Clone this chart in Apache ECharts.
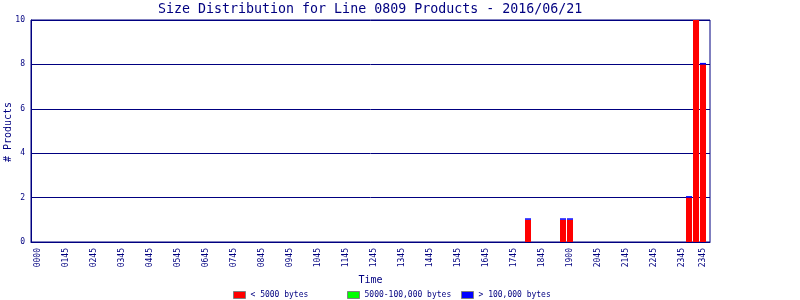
<!DOCTYPE html>
<html>
<head>
<meta charset="utf-8">
<script src="https://cdn.jsdelivr.net/npm/echarts@6/dist/echarts.min.js"></script>
<style>html,body{margin:0;padding:0;background:#fff}#c{width:800px;height:300px}</style>
</head>
<body>
<div id="c"></div>
<script>
var categories = [
  "0000","0100","0115","0130","0145","0200","0215","0230",
  "0245","0300","0315","0330","0345","0400","0415","0430",
  "0445","0500","0515","0530","0545","0600","0615","0630",
  "0645","0700","0715","0730","0745","0800","0815","0830",
  "0845","0900","0915","0930","0945","1000","1015","1030",
  "1045","1100","1115","1130","1145","1200","1215","1230",
  "1245","1300","1315","1330","1345","1400","1415","1430",
  "1445","1500","1515","1530","1545","1600","1615","1630",
  "1645","1700","1715","1730","1745","1800","1815","1830",
  "1845","1850","1855","1858","1900","2000","2015","2030",
  "2045","2100","2115","2130","2145","2200","2215","2230",
  "2245","2300","2315","2330","2345","2350","2355","2345"
];
// counts per slot (index -> value), only non-zero slots listed
var smallSlots = [70, 75, 76, 93, 94, 95];
var smallCounts = [1, 1, 1, 2, 10, 8];      // < 5000 bytes
var mediumCounts = [];                      // 5000-100,000 bytes (none)
var largeCounts = [0, 0, 0, 0, 0, 0];       // > 100,000 bytes (zero, drawn as cap)
var yTicks = [0, 2, 4, 6, 8, 10];

var NAVY = '#000080';
var FONT = '"DejaVu Sans Mono", monospace';

// pad categories with an empty slot at both ends
var padCats = [''].concat(categories).concat(['']);
function build(vals) {
  var arr = padCats.map(function () { return '-'; });
  for (var i = 0; i < smallSlots.length; i++) {
    if (vals[i] !== undefined) arr[smallSlots[i] + 1] = vals[i];
  }
  return arr;
}
var redData = build(smallCounts);
var greenData = build(mediumCounts);
var blueData = build(largeCounts);

var chart = echarts.init(document.getElementById('c'), null, {renderer: 'canvas'});
var legendBase = {
  orient: 'horizontal', top: 291, itemWidth: 12, itemHeight: 7, itemGap: 5,
  padding: 0,
  icon: 'rect',
  itemStyle: {borderColor: '#808080', borderWidth: 1},
  textStyle: {fontFamily: FONT, fontSize: 8, color: NAVY},
  selectedMode: false
};
chart.setOption({
  animation: false,
  backgroundColor: '#ffffff',
  title: {
    text: 'Size Distribution for Line 0809 Products - 2016/06/21',
    left: 158, top: 3, padding: 0,
    textStyle: {fontFamily: FONT, fontSize: 13.3, fontWeight: 'normal', color: NAVY}
  },
  graphic: [{
    type: 'text', x: 8, y: 132, rotation: Math.PI / 2,
    style: {text: '# Products', fill: NAVY, font: '10px "DejaVu Sans Mono", monospace',
            textAlign: 'center', textVerticalAlign: 'middle', verticalAlign: 'middle'}
  }],
  legend: [
    Object.assign({}, legendBase, {left: 233, data: ['< 5000 bytes']}),
    Object.assign({}, legendBase, {left: 347, data: ['5000-100,000 bytes']}),
    Object.assign({}, legendBase, {left: 461, data: ['> 100,000 bytes']})
  ],
  grid: {left: 31, right: 90, top: 20, bottom: 58, outerBoundsMode: 'none', containLabel: false,
         show: true, borderColor: NAVY, borderWidth: 1, backgroundColor: 'transparent'},
  xAxis: {
    type: 'category', data: padCats, boundaryGap: false,
    name: 'Time', nameLocation: 'middle', nameGap: 30,
    nameTextStyle: {fontFamily: FONT, fontSize: 10, color: NAVY},
    axisLine: {lineStyle: {color: NAVY, width: 1}},
    axisTick: {show: false},
    splitLine: {show: false},
    axisLabel: {
      rotate: 90, margin: 6, fontFamily: FONT, fontSize: 8, color: NAVY,
      interval: function (idx) {
        var k = idx - 1;
        return (k >= 0 && k < categories.length && (k % 4 === 0 || k === categories.length - 1));
      }
    }
  },
  yAxis: {
    type: 'value', min: yTicks[0], max: yTicks[yTicks.length - 1], interval: 2,
    axisLine: {show: true, lineStyle: {color: NAVY, width: 1}},
    axisTick: {show: false},
    splitLine: {show: true, lineStyle: {color: NAVY, width: 1}},
    axisLabel: {margin: 6, fontFamily: FONT, fontSize: 8, color: NAVY}
  },
  series: [
    {name: '< 5000 bytes', type: 'bar', stack: 's', data: redData, barWidth: 6,
     itemStyle: {color: '#ff0000'}},
    {name: '5000-100,000 bytes', type: 'bar', stack: 's', data: greenData, barWidth: 6,
     itemStyle: {color: '#00ff00'}},
    {name: '> 100,000 bytes', type: 'bar', stack: 's', data: blueData, barWidth: 6, barMinHeight: 1.5,
     itemStyle: {color: '#0000ff'}}
  ]
});
</script>
</body>
</html>
